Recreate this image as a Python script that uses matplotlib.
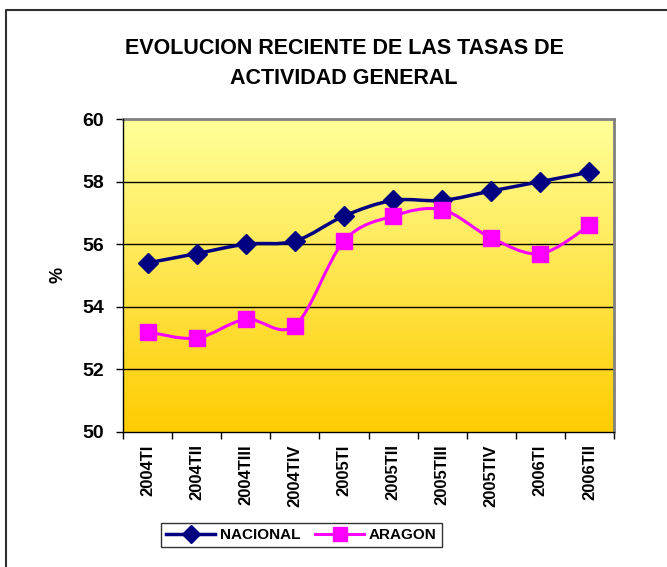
import numpy as np
import matplotlib
matplotlib.use("Agg")
import matplotlib.pyplot as plt
from matplotlib.path import Path
from matplotlib.patches import PathPatch
from matplotlib.colors import LinearSegmentedColormap
from matplotlib.lines import Line2D

# quarterly activity rates (%)
periodos = ["2004TI", "2004TII", "2004TIII", "2004TIV", "2005TI",
            "2005TII", "2005TIII", "2005TIV", "2006TI", "2006TII"]
nacional = [55.4, 55.7, 56.0, 56.1, 56.9, 57.4, 57.4, 57.7, 58.0, 58.3]
aragon = [53.2, 53.0, 53.6, 53.4, 56.1, 56.9, 57.1, 56.2, 55.7, 56.6]

titulo = ["EVOLUCION RECIENTE DE LAS TASAS DE", "ACTIVIDAD GENERAL"]

plt.rcParams['font.family'] = ['Liberation Sans', 'DejaVu Sans']
plt.rcParams['font.weight'] = 'bold'


def smooth_path(xs, ys):
    # bezier curve through the points, catmull-rom style tangents
    pts = np.column_stack([xs, ys]).astype(float)
    n = len(pts)
    verts = [pts[0]]
    codes = [Path.MOVETO]
    for i in range(n - 1):
        p0 = pts[max(i - 1, 0)]
        p1 = pts[i]
        p2 = pts[i + 1]
        p3 = pts[min(i + 2, n - 1)]
        c1 = p1 + (p2 - p0) / 6.0
        c2 = p2 - (p3 - p1) / 6.0
        verts += [c1, c2, p2]
        codes += [Path.CURVE4] * 3
    return Path(verts, codes)


W, H = 667, 567
fig = plt.figure(figsize=(W / 100, H / 100), dpi=100)
fig.patch.set_facecolor('white')

# plot area in pixel terms
left, right, top, bottom = 123, 614, 119, 432
ax = fig.add_axes([left / W, 1 - bottom / H, (right - left) / W, (bottom - top) / H])

# yellow gradient background
cmap = LinearSegmentedColormap.from_list('amarillo', ['#FFCC00', '#FFFF99'])
grad = np.linspace(0, 1, 256)[:, None]
ax.imshow(grad, extent=[0, 1, 0, 1], transform=ax.transAxes, cmap=cmap,
          aspect='auto', origin='lower', zorder=0)

x = np.arange(len(periodos))

# smoothed lines
ax.add_patch(PathPatch(smooth_path(x, nacional), facecolor='none',
                       edgecolor='#000080', lw=2.5, zorder=3))
ax.add_patch(PathPatch(smooth_path(x, aragon), facecolor='none',
                       edgecolor='#FF00FF', lw=2.2, zorder=3))
ax.plot(x, nacional, linestyle='none', marker='D', markersize=10,
        color='#000080', zorder=4)
ax.plot(x, aragon, linestyle='none', marker='s', markersize=11,
        color='#FF00FF', zorder=4)

ax.set_xlim(-0.5, len(periodos) - 0.5)
ax.set_ylim(50, 60)

# gridlines
for yv in [52, 54, 56, 58]:
    ax.axhline(yv, color='black', lw=1, zorder=1)

# spines
for s in ['top', 'right']:
    ax.spines[s].set_color('#808080')
    ax.spines[s].set_linewidth(2)
for s in ['left', 'bottom']:
    ax.spines[s].set_color('black')
    ax.spines[s].set_linewidth(1)
    ax.spines[s].set_zorder(5)

# y axis
ax.set_yticks([50, 52, 54, 56, 58, 60])
ax.tick_params(axis='y', direction='out', length=5, width=1, pad=8.5,
               labelsize=14)

# x axis: labels at categories, ticks between them
ax.set_xticks(x)
ax.set_xticklabels(periodos, rotation=90, fontsize=12, fontweight='bold')
ax.tick_params(axis='x', which='major', length=0, pad=9)
ax.set_xticks(np.arange(-0.5, len(periodos)), minor=True)
ax.tick_params(axis='x', which='minor', direction='out', length=5, width=1)

fig.text(58 / W, 1 - 275 / H, '%', rotation=90, fontsize=13,
         fontweight='bold', ha='center', va='center')

# title
fig.text(344 / W, 1 - 49 / H, titulo[0], fontsize=15.5, fontweight='bold',
         ha='center', va='center')
fig.text(344 / W, 1 - 78 / H, titulo[1], fontsize=15.5, fontweight='bold',
         ha='center', va='center')

# legend
handles = [Line2D([], [], color='#000080', lw=2.5, marker='D', markersize=9),
           Line2D([], [], color='#FF00FF', lw=2.2, marker='s', markersize=10)]
leg = fig.legend(handles, ['NACIONAL', 'ARAGON'], ncol=2,
                 loc='center', bbox_to_anchor=(301.5 / W, 1 - 535 / H),
                 prop={'size': 11, 'weight': 'bold'}, frameon=True,
                 fancybox=False, edgecolor='black', handlelength=3.2,
                 handletextpad=0.3, columnspacing=1.0, borderpad=0.35,
                 borderaxespad=0)
leg.get_frame().set_linewidth(1)

# chart area border (left and top)
fig.add_artist(Line2D([6 / W, 6 / W, 1.0], [0.0, 1 - 10 / H, 1 - 10 / H],
                      transform=fig.transFigure, color='#303030', lw=1.5))

fig.savefig('out.png', dpi=100)
